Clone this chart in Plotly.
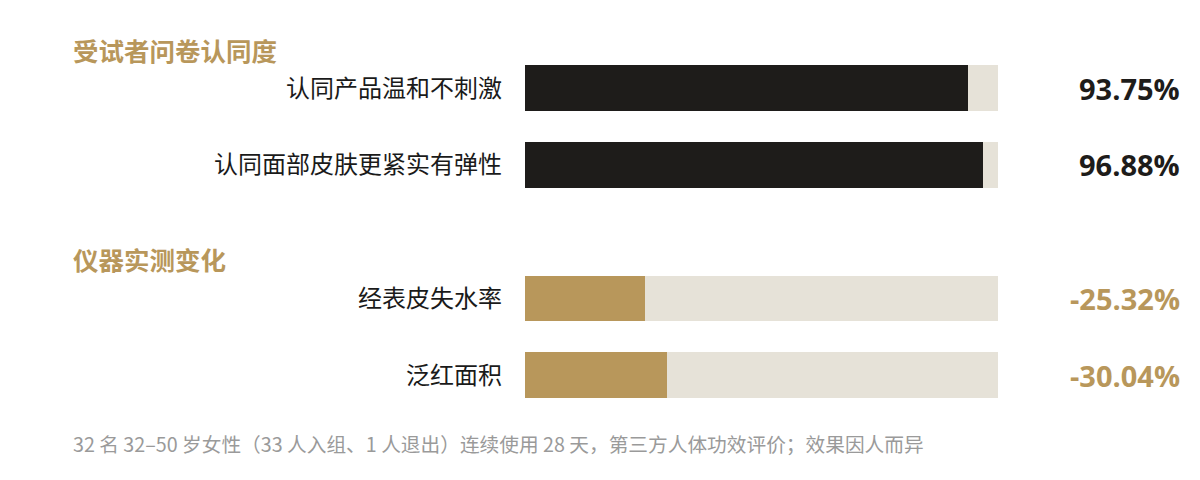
import plotly.graph_objects as go

# survey agreement
survey_labels = ["认同产品温和不刺激", "认同面部皮肤更紧实有弹性"]
survey_values = [93.75, 96.88]
survey_text = ["93.75%", "96.88%"]

# instrument measurement change
measure_labels = ["经表皮失水率", "泛红面积"]
measure_values = [25.32, 30.04]
measure_text = ["-25.32%", "-30.04%"]

section_titles = ["受试者问卷认同度", "仪器实测变化"]
footnote = "32 名 32–50 岁女性（33 人入组、1 人退出）连续使用 28 天，第三方人体功效评价；效果因人而异"

GOLD = "#b8975b"
DARK = "#1e1c1a"
TRACK = "#e6e2d8"
CJK = "Noto Sans CJK SC"
NUM = "Open Sans"

# page body has an 8px margin, so the figure is drawn 8px in
W, H, OFF = 1184, 464, 8


def px_x(v):
    return (v - OFF) / W


def px_y(v):
    return 1 - (v - OFF) / H


fig = go.Figure()

groups = [
    (survey_labels, survey_values, survey_text, DARK, DARK, "x", "y"),
    (measure_labels, measure_values, measure_text, GOLD, GOLD, "x2", "y2"),
]

for labels, values, texts, bar_color, txt_color, xa, ya in groups:
    fig.add_trace(go.Bar(
        y=labels, x=[100] * len(labels), orientation="h",
        marker=dict(color=TRACK, line=dict(width=0)), width=0.595,
        xaxis=xa, yaxis=ya, hoverinfo="skip", showlegend=False,
    ))
    fig.add_trace(go.Bar(
        y=labels, x=values, orientation="h",
        marker=dict(color=bar_color, line=dict(width=0)), width=0.595,
        xaxis=xa, yaxis=ya, showlegend=False,
    ))
    for lab, t in zip(labels, texts):
        fig.add_annotation(
            x=px_x(1182), xref="paper", y=lab, yref=ya,
            text="<b>%s</b>" % t, showarrow=False, xanchor="right",
            font=dict(family=NUM, size=29, color=txt_color),
        )

xdom = [px_x(525), px_x(998)]
axis_x = dict(range=[0, 100], visible=False, fixedrange=True)
axis_y = dict(autorange="reversed", showgrid=False, zeroline=False, showline=False,
              ticks="", ticklabelstandoff=22,
              tickfont=dict(family=CJK, size=24, color="#1a1a1a"))

fig.update_layout(
    width=W, height=H,
    margin=dict(l=0, r=0, t=0, b=0),
    paper_bgcolor="white", plot_bgcolor="white",
    barmode="overlay", bargap=0,
    xaxis=dict(domain=xdom, anchor="y", **axis_x),
    xaxis2=dict(domain=xdom, anchor="y2", **axis_x),
    yaxis=dict(domain=[px_y(203), px_y(50)], anchor="x", **axis_y),
    yaxis2=dict(domain=[px_y(413.5), px_y(260)], anchor="x2", **axis_y),
)

for title, ypx in zip(section_titles, [49, 258]):
    fig.add_annotation(
        x=px_x(71), xref="paper", y=px_y(ypx), yref="paper",
        text="<b>%s</b>" % title, showarrow=False, xanchor="left", yanchor="middle",
        font=dict(family=CJK, size=25.5, color=GOLD),
    )

fig.add_annotation(
    x=px_x(71), xref="paper", y=px_y(443), yref="paper",
    text=footnote, showarrow=False, xanchor="left", yanchor="middle",
    font=dict(family=CJK, size=19.7, color="#9a9a9a"),
)

fig.write_html("out.html")
